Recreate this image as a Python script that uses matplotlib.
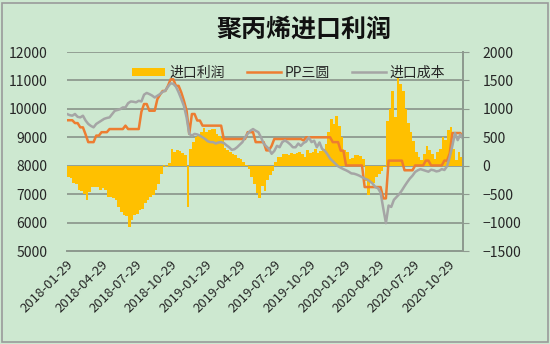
import pandas as pd
import matplotlib.pyplot as plt
from matplotlib.patches import Rectangle

plt.rcParams['font.family'] = ['Noto Sans CJK SC', 'DejaVu Sans']

# weekly samples from 2018-01-29
start = pd.Timestamp("2018-01-29")
weeks = pd.date_range(start, periods=150, freq="7D")

# 进口利润 (right axis)
profit = [
    -200, -220, -300, -320, -430, -450, -500, -600, -470, -380,
    -370, -370, -420, -400, -430, -550, -550, -560, -600, -720,
    -820, -860, -880, -1080, -950, -870, -850, -780, -760, -650,
    -600, -550, -520, -430, -330, -150, 10, -30, 40, 300,
    250, 280, 260, 220, 180, -720, 300, 420, 500, 540,
    600, 660, 600, 620, 640, 650, 560, 520, 480, 320,
    280, 240, 200, 180, 140, 120, 70, 20, -50, -200,
    -330, -480, -560, -350, -450, -250, -170, -100, 60, 150,
    160, 200, 210, 180, 220, 200, 230, 240, 200, 150,
    280, 220, 250, 300, 220, 260, 300, 380, 600, 820,
    730, 880, 700, 500, 270, 250, 120, 130, 180, 180,
    170, 120, -260, -520, -310, -300, -200, -150, -100, -30,
    790, 1000, 1320, 850, 1550, 1430, 1320, 1000, 750, 600,
    440, 250, 150, 100, 210, 350, 280, 200, 120, 250,
    300, 500, 450, 620, 680, 300, 100, 250, 150, 50,
]

# PP三圆 (left axis)
pp_price = [
    9600, 9600, 9600, 9500, 9500, 9350, 9350, 9100, 8830, 8830,
    8830, 9060, 9060, 9180, 9180, 9180, 9290, 9290, 9290, 9290,
    9290, 9290, 9410, 9290, 9290, 9290, 9290, 9290, 9900, 10170,
    10170, 9935, 9935, 9935, 10340, 10500, 10630, 10630, 10810, 11040,
    11040, 10810, 10810, 10580, 10285, 9935, 9120, 9820, 9820, 9590,
    9590, 9410, 9410, 9410, 9410, 9410, 9410, 9410, 9410, 8940,
    8940, 8940, 8940, 8940, 8940, 8940, 8940, 8940, 9180, 9180,
    9180, 8830, 8830, 8830, 8830, 8540, 8540, 8700, 8940, 8940,
    8940, 8940, 8940, 8940, 8940, 8940, 8940, 8940, 8940, 8890,
    9000, 9000, 9000, 9000, 9000, 9000, 9000, 9000, 9000, 9000,
    8830, 8830, 8830, 8530, 8530, 8010, 8010, 8010, 8010, 8010,
    8010, 8010, 7250, 7250, 7250, 7250, 7250, 7250, 7250, 6850,
    6850, 8180, 8180, 8180, 8180, 8180, 8180, 7840, 7840, 7840,
    7840, 8010, 8010, 8010, 8010, 8180, 8180, 8010, 8010, 8010,
    8010, 8010, 8180, 8180, 8430, 9150, 9150, 9150, 9150, 9000,
]

# 进口成本 (left axis)
import_cost = [
    9820, 9780, 9760, 9820, 9720, 9700, 9760, 9590, 9470, 9400,
    9350, 9470, 9530, 9590, 9650, 9680, 9700, 9820, 9935, 9960,
    9990, 10050, 10050, 10200, 10260, 10250, 10230, 10285, 10260, 10500,
    10560, 10520, 10470, 10400, 10460, 10520, 10600, 10640, 10780, 10900,
    10880, 10780, 10580, 10350, 10100, 9700, 9120, 9060, 9120, 9100,
    9060, 9000, 8940, 8860, 8830, 8830, 8780, 8820, 8830, 8800,
    8720, 8650, 8560, 8580, 8650, 8740, 8830, 9000, 9130, 9230,
    9290, 9230, 9180, 9000, 8780, 8680, 8590, 8420, 8520, 8700,
    8650, 8830, 8890, 8830, 8750, 8650, 8650, 8780, 8700, 8800,
    8850, 9000, 8830, 8880, 8650, 8820, 8590, 8530, 8400, 8250,
    8160, 8070, 7980, 7930, 7880, 7840, 7790, 7730, 7720, 7690,
    7650, 7600, 7550, 7510, 7450, 7370, 7250, 7210, 7050, 6500,
    5980, 6600, 6550, 6800, 6900, 7000, 7130, 7280, 7420, 7550,
    7650, 7780, 7840, 7880, 7850, 7820, 7790, 7860, 7840, 7800,
    7820, 7880, 7850, 7980, 8300, 8700, 9150, 8900, 9100, 8950,
]

tick_labels = [
    "2018-01-29", "2018-04-29", "2018-07-29", "2018-10-29",
    "2019-01-29", "2019-04-29", "2019-07-29", "2019-10-29",
    "2020-01-29", "2020-04-29", "2020-07-29", "2020-10-29",
]

bg = "#cde8d0"
grid_c = "#8e9a8f"
text_c = "#262626"

fig = plt.figure(figsize=(5.5, 3.44), dpi=100, facecolor=bg)
ax = fig.add_axes([0.1218, 0.2703, 0.72, 0.5785])
ax.set_facecolor(bg)
ax2 = ax.twinx()

# profit bars sit on the lower axes so the grid stays behind them
ax.bar(weeks, profit, width=7, align="edge", color="#ffc000",
       linewidth=0, antialiased=False, label="进口利润")
ax.set_ylim(-1500, 2000)
ax.set_yticks(range(-1500, 2001, 500))
ax.yaxis.tick_right()
ax.yaxis.grid(True, color=grid_c, linewidth=1.3)
ax.set_axisbelow(True)

ax2.plot(weeks, pp_price, color="#ed7d31", linewidth=1.8, label="PP三圆")
ax2.plot(weeks, import_cost, color="#a5a5a5", linewidth=1.8, label="进口成本")
ax2.set_ylim(5000, 12000)
ax2.set_yticks(range(5000, 12001, 1000))
ax2.yaxis.tick_left()

ax.set_xlim(start, start + pd.Timedelta(days=1043))
ax.set_xticks(pd.to_datetime(tick_labels))
ax.set_xticklabels(tick_labels, rotation=45, ha="right", va="top",
                   rotation_mode="anchor", fontsize=9.5, color=text_c)
ax.tick_params(axis="x", length=0, pad=5)
ax.tick_params(axis="y", labelsize=10, colors=text_c, length=4,
               color=grid_c, pad=10)
ax2.tick_params(axis="y", labelsize=10, colors=text_c, length=0, pad=14)

for a in (ax, ax2):
    for s in ("top", "left"):
        a.spines[s].set_visible(False)
    a.spines["bottom"].set_color(grid_c)
    a.spines["bottom"].set_linewidth(1.3)
    a.spines["right"].set_color(grid_c)
    a.spines["right"].set_linewidth(1.3)

h1, l1 = ax.get_legend_handles_labels()
h2, l2 = ax2.get_legend_handles_labels()
ax2.legend(h1 + h2, l1 + l2, loc="center", bbox_to_anchor=(0.56, 0.895),
           ncol=3, frameon=False, fontsize=10, handlelength=2.4,
           handleheight=0.55, columnspacing=1.6, handletextpad=0.3,
           labelcolor=text_c)

fig.text(0.553, 0.915, "聚丙烯进口利润", ha="center", va="center",
         fontsize=18, fontweight="bold", color="#111111")

fig.patches.append(Rectangle((0.004, 0.006), 0.992, 0.985,
                             transform=fig.transFigure, fill=False,
                             edgecolor="#9a9a9a", linewidth=1.2))

fig.savefig("out.png", dpi=100, facecolor=bg)
